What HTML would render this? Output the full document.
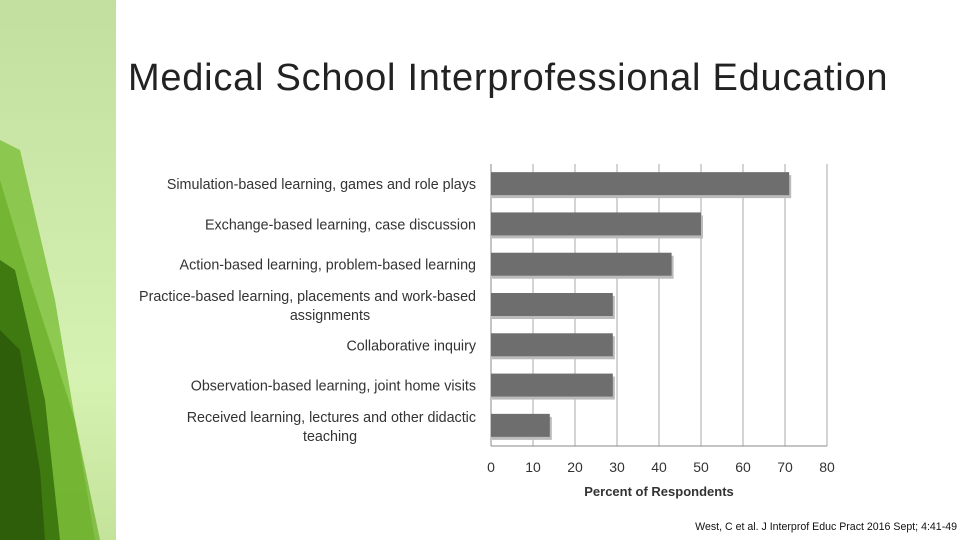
<!DOCTYPE html>
<html><head><meta charset="utf-8"><style>
body{margin:0;width:960px;height:540px;background:#fff;position:relative;overflow:hidden;font-family:"Liberation Sans",sans-serif}
#side{position:absolute;left:0;top:0;width:116px;height:540px;background:linear-gradient(#c3dfa0,#d6f2b2 70%,#c4e39a)}
h1{position:absolute;left:128px;top:57px;margin:0;font-weight:normal;font-size:38px;color:#222;letter-spacing:0.75px}
#cite{position:absolute;right:3px;top:521px;font-size:10.6px;color:#111}
</style></head><body>
<div id="side">
<svg width="116" height="540">
<polygon points="0,140 20,150 55,300 95,540 0,540" fill="#7cbf3a" opacity="0.8"/>
<polygon points="0,180 30,280 75,420 100,540 0,540" fill="#6aae28" opacity="0.7"/>
<polygon points="0,260 15,270 45,400 60,540 0,540" fill="#3f7a10"/>
<polygon points="0,330 20,350 40,470 45,540 0,540" fill="#2f5e0a"/>
</svg></div>
<h1>Medical School Interprofessional Education</h1>
<svg id="chart" width="960" height="540" style="position:absolute;left:0;top:0"></svg>
<div id="cite">West, C et al. J Interprof Educ Pract 2016 Sept; 4:41-49</div>
<script>
const categories=[["Simulation-based learning, games and role plays"],["Exchange-based learning, case discussion"],["Action-based learning, problem-based learning"],["Practice-based learning, placements and work-based","assignments"],["Collaborative inquiry"],["Observation-based learning, joint home visits"],["Received learning, lectures and other didactic","teaching"]];
const values=[71,50,43,29,29,29,14];
const ticks=[0,10,20,30,40,50,60,70,80];
const svg=document.getElementById('chart');const NS='http://www.w3.org/2000/svg';
const X0=491,X1=827,Y0=164,Y1=446,MAX=80;
const x=v=>X0+(X1-X0)*v/MAX;const band=(Y1-Y0)/categories.length;
function mk(t,a){const e=document.createElementNS(NS,t);for(const k in a)e.setAttribute(k,a[k]);svg.appendChild(e);return e;}
ticks.forEach(t=>{const l=mk('line',{x1:x(t),x2:x(t),y1:Y0,y2:Y1,stroke:t==0?'#888':'#aaa','stroke-width':1});


const tx=mk('text',{x:x(t),y:472,'text-anchor':'middle','font-size':14,fill:'#333'});tx.textContent=t;

});
const ax=mk('line',{x1:X0,x2:X1,y1:Y1,y2:Y1,stroke:'#888'});


values.forEach((v,i)=>{const yc=Y0+band*(i+0.5);
const sh=mk('rect',{x:X0+1,y:yc-11+2,width:x(v)-X0+1,height:23,fill:'#bbb'});


const r=mk('rect',{x:X0,y:yc-12,width:x(v)-X0,height:23,fill:'#6e6e6e'});


const lines=categories[i];lines.forEach((s,j)=>{const t=mk('text',{x:j==0?476:330,y:yc+5+(lines.length>1?(j==0?-9:10):0),'text-anchor':j==0?'end':'middle','font-size':14.3,fill:'#333'});t.textContent=s;

});});
const at=mk('text',{x:659,y:496,'text-anchor':'middle','font-size':13,'font-weight':'bold',fill:'#333'});at.textContent='Percent of Respondents';


</script></body></html>
